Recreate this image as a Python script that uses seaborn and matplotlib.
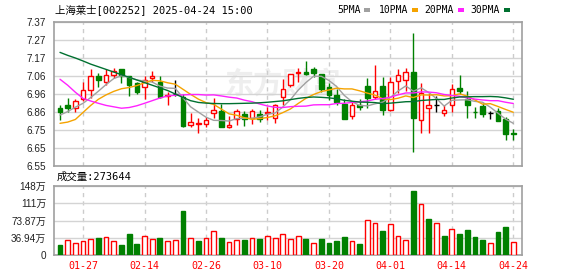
import numpy as np
import pandas as pd
import matplotlib
matplotlib.use("Agg")
import matplotlib.pyplot as plt
from matplotlib.patches import Rectangle
import seaborn as sns

# ---------------- data ----------------
dates = ["01-22", "01-23", "01-24", "01-27",
         "02-05", "02-06", "02-07", "02-10", "02-11", "02-12", "02-13", "02-14",
         "02-17", "02-18", "02-19", "02-20", "02-21", "02-24", "02-25", "02-26",
         "02-27", "02-28", "03-03", "03-04", "03-05", "03-06", "03-07", "03-10",
         "03-11", "03-12", "03-13", "03-14", "03-17", "03-18", "03-19", "03-20",
         "03-21", "03-24", "03-25", "03-26", "03-27", "03-28", "03-31", "04-01",
         "04-02", "04-03", "04-07", "04-08", "04-09", "04-10", "04-11", "04-14",
         "04-15", "04-16", "04-17", "04-18", "04-21", "04-22", "04-23", "04-24"]

opens = [6.88, 6.90, 6.88, 6.93, 6.98, 7.06, 7.03, 7.07, 7.10, 7.06,
         7.02, 7.00, 7.05, 7.03, 6.95, 6.96, 6.945, 6.785, 6.79, 6.79,
         6.85, 6.865, 6.77, 6.82, 6.845, 6.825, 6.845, 6.85, 6.825, 6.945,
         7.01, 7.08, 7.085, 7.10, 7.075, 7.00, 6.955, 6.905, 6.835, 6.90,
         7.005, 6.945, 7.005, 6.87, 7.035, 7.04, 7.085, 6.81, 6.88, 6.90,
         6.85, 6.895, 6.995, 6.93, 6.86, 6.89, 6.85, 6.865, 6.815, 6.74]
highs = [6.90, 6.94, 6.93, 7.03, 7.10, 7.08, 7.10, 7.11, 7.10, 7.06,
         7.03, 7.06, 7.09, 7.06, 6.97, 7.04, 6.96, 6.85, 6.825, 6.83,
         6.935, 6.905, 6.835, 6.875, 6.865, 6.875, 6.87, 6.885, 6.905, 7.045,
         7.075, 7.11, 7.15, 7.115, 7.075, 7.02, 6.99, 6.93, 6.915, 6.93,
         7.05, 7.125, 7.055, 7.055, 7.10, 7.11, 7.305, 7.025, 6.965, 6.95,
         6.895, 7.015, 7.07, 6.975, 6.885, 6.91, 6.865, 6.88, 6.83, 6.76]
lows = [6.81, 6.86, 6.86, 6.92, 6.94, 7.00, 7.01, 7.05, 7.02, 6.95,
        6.96, 6.93, 7.03, 6.94, 6.90, 6.95, 6.77, 6.77, 6.74, 6.77,
        6.825, 6.77, 6.765, 6.785, 6.78, 6.79, 6.80, 6.81, 6.795, 6.895,
        7.00, 7.03, 7.07, 7.055, 6.97, 6.925, 6.90, 6.815, 6.815, 6.87,
        6.88, 6.93, 6.84, 6.865, 6.965, 6.975, 6.63, 6.74, 6.74, 6.86,
        6.835, 6.86, 6.96, 6.825, 6.825, 6.83, 6.82, 6.805, 6.70, 6.70]
closes = [6.86, 6.88, 6.92, 6.98, 7.06, 7.04, 7.07, 7.09, 7.06, 7.01,
          6.97, 7.04, 7.06, 6.945, 6.955, 6.96, 6.775, 6.80, 6.795, 6.81,
          6.87, 6.77, 6.785, 6.865, 6.82, 6.865, 6.815, 6.86, 6.90, 6.99,
          7.075, 7.085, 7.075, 7.08, 6.99, 6.955, 6.915, 6.82, 6.90, 6.885,
          6.94, 6.975, 6.87, 7.03, 7.07, 7.085, 6.825, 6.965, 6.895, 6.90,
          6.87, 6.99, 6.975, 6.90, 6.855, 6.845, 6.85, 6.805, 6.73, 6.735]
# volume in 万 shares
volumes = [21.4, 32.1, 25.7, 30.0, 34.3, 36.4, 38.5, 30.0, 21.4, 45.0,
           23.6, 40.7, 34.3, 36.4, 30.0, 32.1, 94.2, 36.4, 30.0, 36.4,
           51.4, 36.4, 27.8, 32.1, 32.1, 36.4, 34.3, 40.7, 36.4, 45.0,
           34.3, 40.7, 34.3, 25.7, 34.3, 25.7, 30.0, 38.5, 30.0, 23.6,
           75.0, 68.5, 51.4, 66.4, 40.7, 32.1, 137.0, 109.0, 77.0, 68.5,
           40.7, 55.7, 45.0, 53.5, 38.5, 32.1, 25.7, 49.3, 60.0, 27.36]
# 1 = red (up) volume bar, 0 = green
vol_up = [0, 1, 1, 1, 1, 0, 1, 1, 0, 0, 0, 1, 1, 0, 1, 1, 0, 1, 0, 1,
          1, 0, 1, 1, 0, 1, 0, 1, 1, 1, 1, 1, 0, 1, 0, 0, 0, 0, 1, 0,
          1, 1, 0, 1, 1, 1, 0, 1, 0, 1, 0, 1, 0, 0, 0, 0, 1, 0, 0, 1]

ma5 = [6.84, 6.86, 6.885, 6.907, 6.94, 6.976, 7.014, 7.048, 7.064, 7.054,
       7.04, 7.034, 7.028, 7.005, 6.994, 6.992, 6.939, 6.887, 6.857, 6.828,
       6.81, 6.809, 6.806, 6.82, 6.822, 6.821, 6.83, 6.845, 6.852, 6.886,
       6.928, 6.982, 7.025, 7.061, 7.061, 7.037, 7.003, 6.952, 6.916, 6.895,
       6.892, 6.904, 6.914, 6.94, 6.977, 7.006, 6.976, 6.995, 6.968, 6.934,
       6.891, 6.924, 6.926, 6.927, 6.918, 6.913, 6.885, 6.851, 6.817, 6.793]
ma10 = [6.793, 6.80, 6.815, 6.855, 6.895, 6.93, 6.955, 6.975, 6.99, 6.997,
        7.008, 7.024, 7.038, 7.035, 7.024, 7.016, 6.987, 6.958, 6.931, 6.911,
        6.901, 6.874, 6.847, 6.839, 6.825, 6.816, 6.82, 6.826, 6.836, 6.854,
        6.875, 6.906, 6.935, 6.957, 6.974, 6.983, 6.993, 6.989, 6.989, 6.978,
        6.965, 6.954, 6.933, 6.928, 6.936, 6.949, 6.94, 6.955, 6.954, 6.956,
        6.949, 6.95, 6.961, 6.948, 6.926, 6.902, 6.905, 6.889, 6.872, 6.856]
ma20 = [7.044, 7.01, 6.97, 6.935, 6.92, 6.907, 6.895, 6.887, 6.879, 6.883,
        6.893, 6.907, 6.922, 6.937, 6.949, 6.953, 6.955, 6.957, 6.957, 6.954,
        6.955, 6.949, 6.942, 6.937, 6.925, 6.916, 6.903, 6.892, 6.884, 6.883,
        6.888, 6.89, 6.891, 6.898, 6.899, 6.899, 6.906, 6.907, 6.912, 6.916,
        6.92, 6.93, 6.934, 6.942, 6.955, 6.966, 6.966, 6.972, 6.971, 6.967,
        6.957, 6.952, 6.947, 6.938, 6.931, 6.926, 6.922, 6.922, 6.913, 6.906]
ma30 = [7.197, 7.18, 7.165, 7.148, 7.13, 7.115, 7.10, 7.085, 7.07, 7.055,
        7.04, 7.025, 7.01, 6.995, 6.98, 6.96, 6.94, 6.922, 6.912, 6.908,
        6.906, 6.905, 6.905, 6.906, 6.907, 6.908, 6.91, 6.913, 6.917, 6.921,
        6.928, 6.935, 6.94, 6.943, 6.941, 6.938, 6.933, 6.924, 6.919, 6.914,
        6.913, 6.911, 6.905, 6.908, 6.912, 6.916, 6.917, 6.923, 6.926, 6.929,
        6.929, 6.937, 6.943, 6.944, 6.945, 6.945, 6.946, 6.944, 6.938, 6.93]

price_min, price_max = 6.55, 7.37
price_labels = ["6.55", "6.65", "6.75", "6.86", "6.96", "7.06", "7.17", "7.27", "7.37"]
vol_max = 147.75
vol_labels = ["0", "36.94万", "73.87万", "111万", "148万"]
xtick_dates = ["01-27", "02-14", "02-26", "03-10", "03-20", "04-01", "04-14", "04-24"]
ma_names = ["5PMA", "10PMA", "20PMA", "30PMA"]
title = "上海莱士[002252] 2025-04-24 15:00"
vol_title = "成交量:273644"

# ---------------- style ----------------
sns.set_style("white")
plt.rcParams["font.family"] = ["DejaVu Sans Mono", "Noto Sans CJK SC"]
plt.rcParams["axes.unicode_minus"] = False

RED = "#ff0000"
GREEN = "#008000"
MA_COLORS = ["#a0a0a0", "#f5a300", "#ff22ff", "#007030"]
GRID = "#d4d4d4"
SPINE = "#a0a0a0"

W, H = 578, 276
fig = plt.figure(figsize=(W / 100, H / 100), dpi=100)
fig.patch.set_facecolor("white")

def fx(px):
    return px / W

def fy(py):
    return 1 - py / H

L, R = 54, 522
ax = fig.add_axes([fx(L), fy(166), fx(R - L), (166 - 22) / H])
axv = fig.add_axes([fx(L), fy(255), fx(R - L), (255 - 186) / H])

df = pd.DataFrame({"date": dates, "open": opens, "high": highs, "low": lows,
                   "close": closes, "vol": volumes, "vol_up": vol_up,
                   "ma5": ma5, "ma10": ma10, "ma20": ma20, "ma30": ma30})
df["x"] = np.arange(len(df))
xlim = (-0.78, 60.13)
tick_idx = [dates.index(d) for d in xtick_dates]

# watermark
ax.text(fx(283), fy(84), "东方财富", transform=fig.transFigure, fontsize=21,
        fontweight="bold", color="#eeeeee", ha="center", va="center",
        family=["Noto Sans CJK SC"], zorder=0.5)

# ---------------- candles ----------------
bw = 0.6
for _, r in df.iterrows():
    x = r["x"]
    o, h, l, c = r["open"], r["high"], r["low"], r["close"]
    if c > o:
        col = RED
    elif c < o:
        col = GREEN
    else:
        col = "black"
    ax.vlines(x, l, h, color=col, linewidth=1, zorder=2)
    if col == RED:
        ax.bar(x, c - o, bottom=o, width=bw, facecolor="white", edgecolor=RED,
               linewidth=1, zorder=3)
    elif col == GREEN:
        ax.bar(x, o - c, bottom=c, width=bw, facecolor=GREEN, edgecolor=GREEN,
               linewidth=1, zorder=3)
    else:
        ax.hlines(o, x - bw / 2, x + bw / 2, color="black", linewidth=1, zorder=3)

for name, colr in zip(["ma5", "ma10", "ma20", "ma30"], MA_COLORS):
    sns.lineplot(data=df, x="x", y=name, color=colr, linewidth=1, ax=ax,
                 zorder=4, legend=False)

ax.set_xlim(*xlim)
ax.set_ylim(price_min, price_max)
ax.set_yticks(np.linspace(price_min, price_max, len(price_labels)), labels=price_labels)
ax.set_xticks(tick_idx)
ax.set_xticklabels([])
ax.set_xlabel("")
ax.set_ylabel("")

# ---------------- volume ----------------
for _, r in df.iterrows():
    if r["vol_up"] == 1:
        axv.bar(r["x"], r["vol"], width=0.62, facecolor="white", edgecolor=RED,
                linewidth=1, zorder=3)
    else:
        axv.bar(r["x"], r["vol"], width=0.62, facecolor=GREEN, edgecolor=GREEN,
                linewidth=1, zorder=3)
axv.set_xlim(*xlim)
axv.set_ylim(0, vol_max)
axv.set_yticks(np.linspace(0, vol_max, len(vol_labels)), labels=vol_labels)
axv.set_xticks(tick_idx, labels=xtick_dates)

for a in (ax, axv):
    a.set_facecolor("white")
    for s in a.spines.values():
        s.set_color(SPINE)
        s.set_linewidth(1.2)
    a.yaxis.grid(True, color=GRID, linewidth=1, linestyle="-", zorder=0)
    a.xaxis.grid(True, color="#cccccc", linewidth=1, linestyle=(0, (3, 3)), zorder=0)
    a.set_axisbelow(True)
    a.tick_params(axis="y", direction="out", length=4, width=1, color=SPINE,
                  pad=1.5, labelsize=7.2, labelcolor="#222222")
    for t in a.get_yticklabels():
        t.set_family(["Liberation Sans", "Noto Sans CJK SC"])

ax.tick_params(axis="x", length=0)
axv.tick_params(axis="x", length=0, pad=4, labelsize=7.2, labelcolor=RED)

# ---------------- texts ----------------
fig.text(fx(55), fy(10), title, fontsize=7.5, color="black", ha="left", va="center")
fig.text(fx(57), fy(177), vol_title, fontsize=7.5, color="black", ha="left", va="center")

leg_x = [337.5, 378.7, 424, 470]
sq_x = [364, 412, 458, 504]
for name, colr, tx, sx in zip(ma_names, MA_COLORS, leg_x, sq_x):
    fig.text(fx(tx), fy(10), name, fontsize=7.0, color="black", ha="left", va="center")
    fig.patches.append(Rectangle((fx(sx), fy(12)), 6 / W, 4 / H, transform=fig.transFigure,
                                 facecolor=colr, edgecolor="none"))

fig.savefig("out.png", dpi=100, facecolor="white")
